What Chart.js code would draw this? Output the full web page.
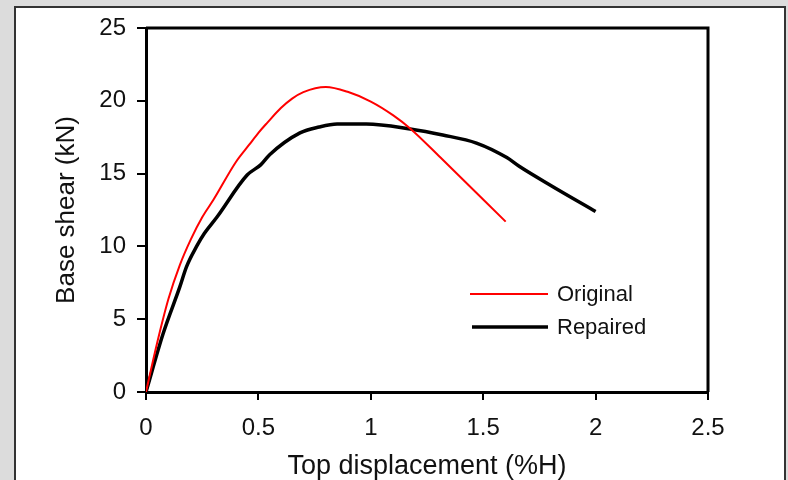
<!DOCTYPE html>
<html>
<head>
<meta charset="utf-8">
<script src="https://cdn.jsdelivr.net/npm/chart.js@4/dist/chart.umd.min.js"></script>
<style>
  html, body { margin: 0; padding: 0; width: 788px; height: 480px; overflow: hidden; background: #dcdcdc; }
  #panel { position: absolute; left: 14px; top: 6px; width: 772px; height: 500px; background: #ffffff; border: 2px solid #333333; box-sizing: border-box; }
  #c { position: absolute; left: 0; top: 0; }
</style>
</head>
<body>
<div id="panel"></div>
<canvas id="c" width="788" height="480"></canvas>
<script>
// ---- data ----
const origX = [0, 0.05, 0.1, 0.15, 0.2, 0.25, 0.3, 0.4, 0.46, 0.5, 0.54, 0.6, 0.65, 0.7, 0.8, 0.9, 1.0, 1.1, 1.175, 1.31, 1.60];
const origY = [0, 3.4, 6.4, 8.7, 10.5, 12.0, 13.2, 15.8, 17.0, 17.8, 18.5, 19.5, 20.15, 20.6, 20.95, 20.6, 19.95, 19.0, 18.1, 16.1, 11.7];
const repX = [0, 0.076, 0.15, 0.18, 0.225, 0.26, 0.315, 0.45, 0.51, 0.55, 0.685, 0.77, 0.85, 0.98, 1.175, 1.32, 1.47, 1.605, 1.66, 1.81, 2.0];
const repY = [0, 4.0, 7.2, 8.6, 10.0, 10.9, 12.0, 14.9, 15.6, 16.3, 17.8, 18.2, 18.4, 18.4, 18.06, 17.65, 17.1, 16.1, 15.5, 14.1, 12.4];
const seriesNames = ["Original", "Repaired"];
const xTitle = "Top displacement (%H)";
const yTitle = "Base shear (kN)";
const xMax = 2.5, xStep = 0.5;
const yMax = 25, yStep = 5;

const toPts = (xs, ys) => xs.map((x, i) => ({ x: x, y: ys[i] }));

const FONT = "'Liberation Sans', Arial, sans-serif";

const framePlugin = {
  id: 'frame',
  afterDraw(chart) {
    const { ctx, chartArea: a } = chart;
    ctx.save();
    ctx.strokeStyle = '#000';
    ctx.lineWidth = 3;
    ctx.beginPath();
    ctx.moveTo(a.left, a.top);
    ctx.lineTo(a.right, a.top);
    ctx.lineTo(a.right, a.bottom);
    ctx.stroke();
    ctx.restore();
  }
};

const legendPlugin = {
  id: 'insideLegend',
  afterDatasetsDraw(chart) {
    const { ctx, chartArea: a } = chart;
    ctx.save();
    chart.data.datasets.forEach((ds, i) => {
      const yPix = a.bottom - 98 + i * 33;
      const x0 = a.left + 324 + (i ? 2 : 0), x1 = a.left + 402;
      ctx.strokeStyle = ds.borderColor;
      ctx.lineWidth = ds.borderWidth;
      ctx.beginPath();
      ctx.moveTo(x0, yPix);
      ctx.lineTo(x1, yPix);
      ctx.stroke();
      ctx.fillStyle = '#111';
      ctx.font = "22px " + FONT;
      ctx.textBaseline = 'middle';
      ctx.textAlign = 'left';
      ctx.fillText(ds.label, x1 + 9, yPix + 1);
    });
    ctx.restore();
  }
};

new Chart(document.getElementById('c'), {
  type: 'scatter',
  data: {
    datasets: [
      { label: seriesNames[0], data: toPts(origX, origY), showLine: true, borderColor: '#ff0000', backgroundColor: '#ff0000', borderWidth: 2, pointRadius: 0, cubicInterpolationMode: 'monotone' },
      { label: seriesNames[1], data: toPts(repX, repY), showLine: true, borderColor: '#000000', backgroundColor: '#000000', borderWidth: 3.5, pointRadius: 0, cubicInterpolationMode: 'monotone' }
    ]
  },
  options: {
    responsive: false,
    devicePixelRatio: 1,
    animation: false,
    layout: { padding: { left: 0, top: 28, right: 80, bottom: 0 } },
    plugins: { legend: { display: false }, tooltip: { enabled: false } },
    scales: {
      x: {
        type: 'linear', min: 0, max: xMax,
        ticks: { stepSize: xStep, color: '#111', font: { family: FONT, size: 24 }, padding: 14, maxRotation: 0,
                 callback: v => String(v) },
        grid: { drawOnChartArea: false, drawTicks: true, tickLength: 8, color: '#000', lineWidth: 2 },
        border: { display: true, color: '#000', width: 3 },
        title: { display: true, text: xTitle, color: '#111', font: { family: FONT, size: 27, lineHeight: 1 }, padding: { top: 0, bottom: 0 } },
        afterFit(s) { s.height = 88; }
      },
      y: {
        type: 'linear', min: 0, max: yMax,
        ticks: { stepSize: yStep, color: '#111', font: { family: FONT, size: 24 }, padding: 11 },
        grid: { drawOnChartArea: false, drawTicks: true, tickLength: 9, color: '#000', lineWidth: 2 },
        border: { display: true, color: '#000', width: 3 },
        title: { display: true, text: yTitle, color: '#111', font: { family: FONT, size: 26, lineHeight: 1 }, padding: { top: 54, bottom: 0 } },
        afterFit(s) { s.width = 146; }
      }
    }
  },
  plugins: [framePlugin, legendPlugin]
});
</script>
</body>
</html>
